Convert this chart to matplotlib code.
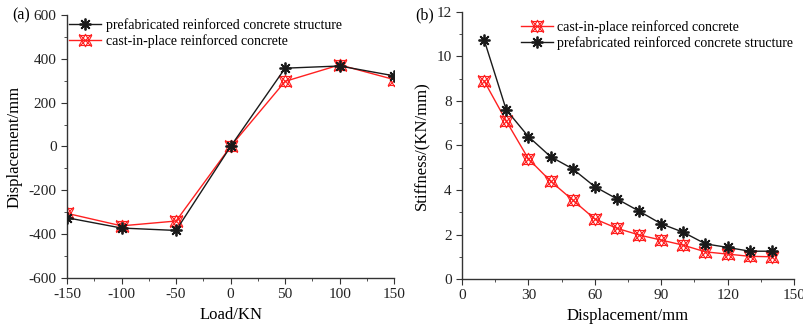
import numpy as np
import matplotlib

matplotlib.use('Agg')
import matplotlib.pyplot as plt
from matplotlib.ticker import MultipleLocator
from matplotlib.path import Path

plt.rcParams['font.family'] = ['Liberation Serif', 'DejaVu Serif']
plt.rcParams['axes.unicode_minus'] = False

# (a) load vs displacement
load = [-150, -100, -50, 0, 50, 100, 150]
disp_prefab = [-325, -372, -383, 0, 357, 367, 322]
disp_cast = [-305, -362, -340, 0, 297, 372, 305]

# (b) displacement vs stiffness
disp_b = [10, 20, 30, 40, 50, 60, 70, 80, 90, 100, 110, 120, 130, 140]
stiff_prefab = [10.75, 7.6, 6.4, 5.5, 4.95, 4.15, 3.6, 3.05, 2.48, 2.1, 1.58, 1.42, 1.25, 1.25]
stiff_cast = [8.9, 7.1, 5.4, 4.4, 3.55, 2.7, 2.28, 1.98, 1.75, 1.52, 1.22, 1.12, 1.02, 1.0]

BLACK = '#1a1a1a'
RED = '#ff2020'

# red marker: up + down triangle with an x through it
tri_up = Path([(-1, -0.8), (1, -0.8), (0, 1), (-1, -0.8)], closed=True)
tri_dn = Path([(-1, 0.8), (1, 0.8), (0, -1), (-1, 0.8)], closed=True)
xmark = Path([(-1, -1), (1, 1), (-1, 1), (1, -1)],
             [Path.MOVETO, Path.LINETO, Path.MOVETO, Path.LINETO])
CAST_MARKER = Path.make_compound_path(tri_up, tri_dn, xmark)

fig = plt.figure(figsize=(8.04, 3.31), dpi=100)
ax1 = fig.add_axes([0.0833, 0.160, 0.407, 0.795])
ax2 = fig.add_axes([0.5746, 0.157, 0.413, 0.807])


def prefab(ax, x, y, label):
    ax.plot(x, y, color=BLACK, lw=1.0, marker=(8, 2, 0), ms=8.5, mew=1.3, label=label, zorder=3)


def cast(ax, x, y, label):
    ax.plot(x, y, color=RED, lw=1.0, marker=CAST_MARKER, ms=9, mfc='none', mew=0.8,
            label=label, zorder=2)


# Panel (a)
prefab(ax1, load, disp_prefab, 'prefabricated reinforced concrete structure')
cast(ax1, load, disp_cast, 'cast-in-place reinforced concrete')
ax1.set_xlim(-150, 150)
ax1.set_ylim(-600, 600)
ax1.xaxis.set_major_locator(MultipleLocator(50))
ax1.xaxis.set_minor_locator(MultipleLocator(25))
ax1.yaxis.set_major_locator(MultipleLocator(200))
ax1.yaxis.set_minor_locator(MultipleLocator(100))
ax1.set_xlabel('Load/KN', fontsize=12)
ax1.set_ylabel('Displacement/mm', fontsize=12)
ax1.legend(loc='upper left', bbox_to_anchor=(-0.018, 1.02), frameon=False, fontsize=10,
           handlelength=2.3, handletextpad=0.3, borderaxespad=0.2, labelspacing=0.15)
fig.text(0.015, 0.955, '(a)', fontsize=11.5, va='center')

# Panel (b)
cast(ax2, disp_b, stiff_cast, 'cast-in-place reinforced concrete')
prefab(ax2, disp_b, stiff_prefab, 'prefabricated reinforced concrete structure')
ax2.set_xlim(0, 150)
ax2.set_ylim(0, 12)
ax2.xaxis.set_major_locator(MultipleLocator(30))
ax2.xaxis.set_minor_locator(MultipleLocator(15))
ax2.yaxis.set_major_locator(MultipleLocator(2))
ax2.yaxis.set_minor_locator(MultipleLocator(1))
ax2.set_xlabel('Displacement/mm', fontsize=12)
ax2.set_ylabel('Stiffness/(KN/mm)', fontsize=12)
ax2.legend(loc='upper left', bbox_to_anchor=(0.152, 1.0), frameon=False, fontsize=10,
           handlelength=2.3, handletextpad=0.3, borderaxespad=0.2, labelspacing=0.15)
fig.text(0.516, 0.955, '(b)', fontsize=11.5, va='center')

for ax in (ax1, ax2):
    ax.spines['top'].set_visible(False)
    ax.spines['right'].set_visible(False)
    for s in ('left', 'bottom'):
        ax.spines[s].set_color('#333333')
        ax.spines[s].set_linewidth(1.0)
    ax.tick_params(which='major', direction='out', length=4, labelsize=11, colors='#333333',
                   labelcolor='#222222')
    ax.tick_params(which='minor', direction='out', length=2.5, colors='#333333')

fig.savefig('out.png', dpi=100)
